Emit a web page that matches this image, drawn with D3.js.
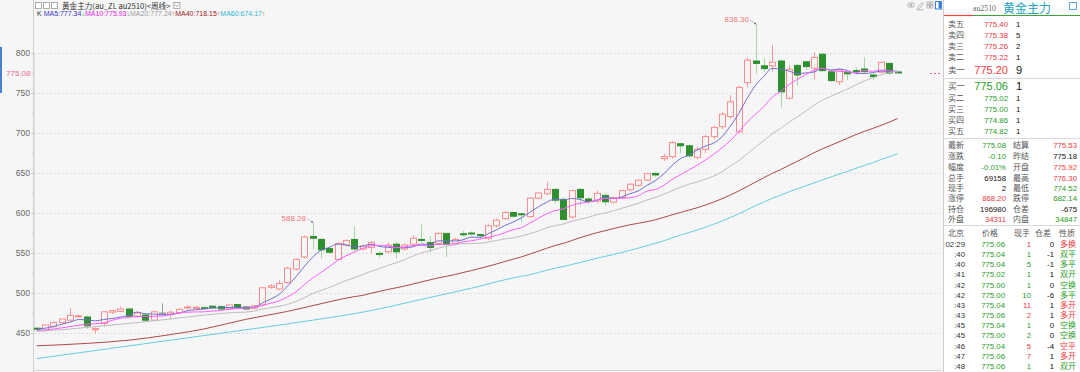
<!DOCTYPE html>
<html><head><meta charset="utf-8">
<script src="https://cdn.jsdelivr.net/npm/d3@7/dist/d3.min.js"></script>
<style>
html,body{margin:0;padding:0;background:#f6f6f6;overflow:hidden;}
svg{display:block;font-family:"Liberation Sans",Arial,"Noto Sans CJK SC",sans-serif;}
</style></head><body>
<svg id="c" width="1080" height="372"></svg>
<script>
// ---------- data ----------
const opens  = [456,453,458,463,466,470.5,470,454,462,476,477,480,471,472.5,466,475,473,475.5,481.5,481,481.6,483.5,483,480,485.5,482.5,481,485,507,505,513,530,545,570.5,567,555.5,542,560,567,555,557,549.5,551.5,561,555,561,567,563,562,574.5,562,574,575,573,568.5,584,593,600.5,599,595.5,618.5,624,629.5,617,595,629.5,617.5,615,622,613.5,619.5,629,634.5,641,649.5,668,670.5,686.5,684,669.5,679.5,695.5,708,720.5,701.5,763,790,784,784,790,743.5,784.5,789,781,798.5,776.5,764,775.5,778,780,772.5,776,787,776.3];
const highs  = [457,461,464,468,481,473,472,457,477,479,483,481,477,474,478,487,478,481,485,484,483,485,484,486,487,484,485,508,511,516,533,543,572,588.28,569,557,563,567,583,561,565,552,563,564,562,572.5,586,571,576,575,569,578,577,574,586,593,602.5,601,600,620,626,639,631,620,629,631,620,628,624,621,629,637,642,650,651,674,690,688,686,683,698,709,726,747.5,759,794,836.30,793,810,792,785,786,790,801,800,778,781,777,782,794.5,774,789,788,776.3];
const lows   = [454,452,457,462,465,469,455,449.5,458,474,476,470,469,464,465,472,468,474,480,480,479,480,479,479,481,479,480,483,505,503,512,528,543,555,543,549,541,558,552,553,550,544,550,543,553,559,563,551,560,545,560,570,572,568,566,582,591,594,588,594,617,622,612,591,593,609,611,612,609,612,618,627,633,640,645,665,668,675,669,667,675,692,705,718,700,757,774,776,777,732,742,759,779,767,776,764,760,766,773,775,766,775,773,774.5];
const closes = [455,460,463,467.5,472,471.5,459,455.5,476.5,478,480,471,475,466,476.5,475,476,479.5,482.5,482,481,481.5,480,485,482.5,480,484,506.5,509,512,531,542,570,568.5,554,551,562,565.5,555,559,563,548.5,560,551.5,560,568.5,566,557,574.5,561,567,573,574,572,584,591,600.5,596,598,618.5,625,629.5,616,592,628,619,614.5,624.5,614,619,628,636,641,649,647.5,670.5,688,684,671.5,679.5,695.5,707,723.5,739,757,791,787,780.5,788.5,751.5,779.5,772.5,783,794.5,778,765.5,778.75,774,777,776.7,770.5,788.5,775,775.08];

const yTicks = [450,500,550,600,650,700,750,800];
const yMinorTicks = [475,525,575,625,675,725,775];
const maPeriods = [5,10,20,40,60];
const maNames = ["MA5","MA10","MA20","MA40","MA60"];
const maLast = ["777.34","775.93","777.24","718.15","674.17"];
const maArrows = ["↓","↓","↑","↑","↑"];
const ma5Head  = [[0,455],[1,456],[2,458],[3,461]];
const ma10Head = [[0,453],[2,455],[4,458],[6,461],[8,462.5]];
const ma20Head = [[0,452],[4,455],[8,459],[12,463],[16,467.5],[18,470]];
const ma40Head = [[0,434],[6,437],[11,441],[16,448],[20,455],[25,467],[30,477],[35,489],[38,495.5]];
const ma60Head = [[0,418],[8,429.5],[16,441],[25,454],[33,466],[40,478],[46,492],[52,506],[58,521]];
const maHeads = [ma5Head,ma10Head,ma20Head,ma40Head,ma60Head];
const lastPrice = 775.08;
const highMarkIdx = [33,86];

const titleText = "黄金主力(au_ZL  au2510)<周线>";
const contractCode = "au2510";
const contractName = "黄金主力";
const askLabels = ["卖五","卖四","卖三","卖二","卖一"];
const askPrices = ["775.40","775.38","775.26","775.22","775.20"];
const askVols   = ["1","5","2","1","9"];
const bidLabels = ["买一","买二","买三","买四","买五"];
const bidPrices = ["775.06","775.02","775.00","774.86","774.82"];
const bidVols   = ["1","1","1","1","1"];
const statLabelsL = ["最新","涨跌","幅度","总手","现手","涨停","持仓","外盘"];
const statValuesL = ["775.08","-0.10","-0.01%","69158","2","868.20","196980","34311"];
const statToneL   = ["down","down","down","flat","flat","up","flat","up"];
const statLabelsR = ["结算","昨结","开盘","最高","最低","跌停","仓差","内盘"];
const statValuesR = ["775.53","775.18","775.92","776.30","774.52","682.14","-675","34847"];
const statToneR   = ["up","flat","up","up","down","down","flat","down"];
const tickHeader = ["北京","价格","现手","仓差","性质"];
const tickTimes  = ["02:29",":40",":40",":41",":42",":42",":43",":43",":45",":45",":46",":47",":48"];
const tickPrices = ["775.06","775.04","775.04","775.02","775.00","775.00","775.04","775.06","775.04","775.00","775.04","775.06","775.06"];
const tickVols   = [1,1,5,1,1,10,11,2,1,2,5,7,1];
const tickOI     = [0,-1,-1,1,0,-6,1,1,0,0,-4,1,1];
const tickNature = ["多换","双平","多平","双开","空换","多平","多开","多开","空换","空换","空平","多开","双开"];
const tickSide   = ["up","down","down","down","down","down","up","up","down","down","up","up","down"];

// ---------- styles ----------
const RED="#f03a3a", GREEN="#1f9d1f", LABEL="#555";
const toneColor = t => t==="up"?RED:(t==="down"?GREEN:"#111");
const maColors = ["#6f6fcf","#ff5cff","#bdbdbd","#b04848","#62cfe0"];
const maTextColors = ["#3434c8","#e01ee0","#9a9a9a","#a01818","#2fb6d0"];
const CJK = '"Noto Sans CJK SC","Liberation Sans",sans-serif';

const svg = d3.select("#c");
const N = closes.length;
const x = d3.scaleLinear().domain([0, N-1]).range([36.7, 897.6]);
const y = d3.scaleLinear().domain([450, 800]).range([333, 53]);

// background
svg.append("rect").attr("width",1080).attr("height",372).attr("fill","#f6f6f6");
svg.append("rect").attr("x",0).attr("y",47).attr("width",2).attr("height",46).attr("fill","#4a7fd6");

// grid
svg.append("g").selectAll("line").data(yTicks).join("line")
  .attr("x1",34).attr("x2",940).attr("y1",d=>Math.round(y(d))+0.5).attr("y2",d=>Math.round(y(d))+0.5)
  .attr("stroke","#dcdcdc").attr("stroke-dasharray","2,2");

// axes
const axis = svg.append("g").attr("transform","translate(33.5,0)")
  .call(d3.axisLeft(y).tickValues(yTicks).tickSize(2).tickPadding(1.5).tickFormat(d3.format("d")));
axis.select(".domain").attr("stroke","#d0d0d0");
axis.selectAll(".tick line").attr("stroke","#c8c8c8");
axis.selectAll("text").attr("fill","#666").attr("font-size",8.5).attr("font-family","Liberation Sans, Arial, sans-serif");
svg.append("line").attr("x1",33.5).attr("x2",33.5).attr("y1",0).attr("y2",372).attr("stroke","#d0d0d0");
const axisMinor = svg.append("g").attr("transform","translate(33.5,0)")
  .call(d3.axisLeft(y).tickValues(yMinorTicks).tickSize(2).tickFormat(""));
axisMinor.select(".domain").remove();
axisMinor.selectAll(".tick line").attr("stroke","#c8c8c8");
svg.append("line").attr("x1",33).attr("x2",942).attr("y1",370.5).attr("y2",370.5).attr("stroke","#d6d6d6");

// last price marker
svg.append("text").attr("x",30.5).attr("y",y(lastPrice)+3).attr("text-anchor","end")
  .attr("font-size",8).attr("fill","#f0669a").text(lastPrice.toFixed(2));
svg.append("line").attr("x1",930).attr("x2",942).attr("y1",Math.round(y(lastPrice))+0.5).attr("y2",Math.round(y(lastPrice))+0.5)
  .attr("stroke","#f0669a").attr("stroke-dasharray","2,2");

// clip
svg.append("clipPath").attr("id","plot").append("rect").attr("x",34).attr("y",17).attr("width",906).attr("height",353);
const plot = svg.append("g").attr("clip-path","url(#plot)");

// candles
const idx = d3.range(N);
const dir = i => closes[i]>opens[i]?"up":(closes[i]<opens[i]?"down":"flat");
const bw = 6;
const cg = plot.append("g");
cg.selectAll("line.wick").data(idx).join("line").attr("class","wick")
  .attr("x1",i=>Math.round(x(i))+0.5).attr("x2",i=>Math.round(x(i))+0.5)
  .attr("y1",i=>y(highs[i])).attr("y2",i=>y(lows[i]))
  .attr("stroke",i=>dir(i)==="up"?"#ff9a9a":(dir(i)==="down"?"#a6d6a6":"#9a9a9a")).attr("stroke-width",1);
cg.selectAll("rect.body").data(idx).join("rect").attr("class","body")
  .attr("x",i=>Math.round(x(i))-bw/2+0.5)
  .attr("y",i=>y(Math.max(opens[i],closes[i])))
  .attr("width",bw)
  .attr("height",i=>Math.max(1,Math.abs(y(opens[i])-y(closes[i]))))
  .attr("fill",i=>dir(i)==="down"?"#2e8f2e":"#f6f6f6")
  .attr("stroke",i=>dir(i)==="up"?"#ff8c8c":(dir(i)==="down"?"#2e8f2e":"#9a9a9a")).attr("stroke-width",1);

// moving averages
const line = d3.line().x(d=>x(d[0])).y(d=>y(d[1])).curve(d3.curveMonotoneX);
maPeriods.forEach((n,k)=>{
  const pts = maHeads[k].slice();
  for(let i=n-1;i<N;i++) pts.push([i, d3.mean(closes.slice(i-n+1,i+1))]);
  plot.append("path").datum(pts).attr("d",line).attr("fill","none")
    .attr("stroke",maColors[k]).attr("stroke-width",1);
});

// high annotations
highMarkIdx.forEach(i=>{
  const cx=x(i), cy=y(highs[i]);
  svg.append("line").attr("x1",cx-5).attr("y1",cy-3.5).attr("x2",cx-0.5).attr("y2",cy-0.5)
    .attr("stroke","#777").attr("stroke-width",0.8).attr("stroke-dasharray","1,1");
  svg.append("circle").attr("cx",cx-0.5).attr("cy",cy-0.5).attr("r",0.9).attr("fill","#666");
  svg.append("text").attr("x",cx-6.5).attr("y",cy-1.5).attr("text-anchor","end")
    .attr("font-size",8).attr("fill","#f07878").text(highs[i].toFixed(2));
});

// header row 1
[35,43,51].forEach(px=>{
  svg.append("rect").attr("x",px+0.5).attr("y",2.5).attr("width",6).attr("height",6).attr("fill","#fff").attr("stroke","#999").attr("stroke-width",0.8);
});
const title = svg.append("text").attr("x",62).attr("y",9).attr("font-size",7.6).attr("fill","#333").attr("font-family",CJK).text(titleText);
const tEnd = 62 + title.node().getComputedTextLength() + 3;
svg.append("rect").attr("x",tEnd+0.5).attr("y",2.5).attr("width",6).attr("height",6).attr("fill","#fff").attr("stroke","#999").attr("stroke-width",0.8);
svg.append("path").attr("d",`M${tEnd+1.8},4.6 L${tEnd+3.5},6.6 L${tEnd+5.2},4.6`).attr("fill","none").attr("stroke","#777").attr("stroke-width",0.7);

// header row 2 (MA legend)
const leg = svg.append("text").attr("x",37).attr("y",16).attr("font-size",7);
leg.append("tspan").attr("fill","#333").text("K ");
maNames.forEach((nm,k)=>{
  leg.append("tspan").attr("fill",maTextColors[k]).text(nm+":"+maLast[k]);
  leg.append("tspan").attr("fill",maArrows[k]==="↑"?RED:GREEN).text(maArrows[k]);
});

// top-right tool icons
const ic = svg.append("g").attr("stroke","#aaa").attr("fill","none").attr("stroke-width",0.8);
ic.append("ellipse").attr("cx",911).attr("cy",5).attr("rx",3.5).attr("ry",2.3);
ic.append("circle").attr("cx",911).attr("cy",5).attr("r",1).attr("fill","#aaa");
ic.append("path").attr("d","M917,8.5 L922,2.5 L923.5,3.8 L918.5,9.5 Z");
ic.append("line").attr("x1",917).attr("x2",924).attr("y1",9.8).attr("y2",9.8);
[[927,2],[930.5,2],[927,5.5],[930.5,5.5]].forEach(p=>ic.append("rect").attr("x",p[0]).attr("y",p[1]).attr("width",2.5).attr("height",2.5));
svg.append("rect").attr("x",935.5).attr("y",1.5).attr("width",6).attr("height",7.5).attr("fill","#fff").attr("stroke","#3b82d6").attr("stroke-width",1);
svg.append("rect").attr("x",938.5).attr("y",2).attr("width",3).attr("height",6.5).attr("fill","#3b82d6");

// ---------- right panel ----------
const P = svg.append("g").attr("font-size",8);
P.append("rect").attr("x",943).attr("y",0).attr("width",137).attr("height",372).attr("fill","#fff");
P.append("line").attr("x1",943.5).attr("x2",943.5).attr("y1",0).attr("y2",372).attr("stroke","#cfcfcf");
P.append("text").attr("x",973).attr("y",11).attr("fill","#666").attr("font-size",7.8).attr("font-family","Liberation Serif, serif").text(contractCode);
P.append("text").attr("x",1003).attr("y",13).attr("fill","#1c9fc2").attr("font-size",12).attr("font-family",CJK).text(contractName);
P.append("rect").attr("x",1069.5).attr("y",2.5).attr("width",7).attr("height",7).attr("fill","#fff").attr("stroke","#5b9be0").attr("stroke-width",0.9);
P.append("line").attr("x1",944).attr("x2",973).attr("y1",15.5).attr("y2",15.5).attr("stroke","#f04040").attr("stroke-width",1.2);
P.append("line").attr("x1",973).attr("x2",1080).attr("y1",15.5).attr("y2",15.5).attr("stroke","#3aa63a").attr("stroke-width",1.2);

const askY = [24,35,46,57,70];
askLabels.forEach((lb,k)=>{
  const big = k===4;
  P.append("text").attr("x",948).attr("y",askY[k]+3).attr("fill",LABEL).attr("font-family",CJK).attr("font-size",big?8.5:8).text(lb);
  P.append("text").attr("x",1008).attr("y",askY[k]+(big?4:3)).attr("text-anchor","end").attr("fill",RED).attr("font-size",big?11:7.8).text(askPrices[k]);
  P.append("text").attr("x",1016).attr("y",askY[k]+(big?4:3)).attr("fill","#111").attr("font-size",big?11:7.8).text(askVols[k]);
});
P.append("line").attr("x1",944).attr("x2",1080).attr("y1",78.5).attr("y2",78.5).attr("stroke","#d8d8d8");
const bidY = [86,98,109,120,131];
bidLabels.forEach((lb,k)=>{
  const big = k===0;
  P.append("text").attr("x",948).attr("y",bidY[k]+3).attr("fill",LABEL).attr("font-family",CJK).attr("font-size",big?8.5:8).text(lb);
  P.append("text").attr("x",1008).attr("y",bidY[k]+(big?4:3)).attr("text-anchor","end").attr("fill",GREEN).attr("font-size",big?11:7.8).text(bidPrices[k]);
  P.append("text").attr("x",1016).attr("y",bidY[k]+(big?4:3)).attr("fill","#111").attr("font-size",big?11:7.8).text(bidVols[k]);
});
P.append("line").attr("x1",944).attr("x2",1080).attr("y1",138.5).attr("y2",138.5).attr("stroke","#d8d8d8");

const statY = [145,156,167,178,188,198,209,219];
statLabelsL.forEach((lb,k)=>{
  P.append("text").attr("x",948).attr("y",statY[k]+3).attr("fill",LABEL).attr("font-family",CJK).text(lb);
  P.append("text").attr("x",1006).attr("y",statY[k]+3).attr("text-anchor","end").attr("fill",toneColor(statToneL[k])).attr("font-size",7.8).text(statValuesL[k]);
  P.append("text").attr("x",1013).attr("y",statY[k]+3).attr("fill",LABEL).attr("font-family",CJK).text(statLabelsR[k]);
  P.append("text").attr("x",1077).attr("y",statY[k]+3).attr("text-anchor","end").attr("fill",toneColor(statToneR[k])).attr("font-size",7.8).text(statValuesR[k]);
});
P.append("line").attr("x1",944).attr("x2",1080).attr("y1",225.5).attr("y2",225.5).attr("stroke","#d8d8d8");

const hdrX = [948,990,1022,1043,1067];
tickHeader.forEach((h,k)=>{
  P.append("text").attr("x",hdrX[k]).attr("y",236).attr("text-anchor",k===0?"start":"middle").attr("fill",LABEL).attr("font-family",CJK).text(h);
});
tickTimes.forEach((t,k)=>{
  const cy = 244 + k*10.15 + 3;
  const col = tickSide[k]==="up"?RED:GREEN;
  P.append("text").attr("x",965).attr("y",cy).attr("text-anchor","end").attr("fill","#333").attr("font-size",7.8).text(t);
  P.append("text").attr("x",1005).attr("y",cy).attr("text-anchor","end").attr("fill",GREEN).attr("font-size",7.8).text(tickPrices[k]);
  P.append("text").attr("x",1031).attr("y",cy).attr("text-anchor","end").attr("fill",col).attr("font-size",7.8).text(tickVols[k]);
  P.append("text").attr("x",1054).attr("y",cy).attr("text-anchor","end").attr("fill","#111").attr("font-size",7.8).text(tickOI[k]);
  P.append("text").attr("x",1060).attr("y",cy).attr("fill",col).attr("font-family",CJK).text(tickNature[k]);
});
</script>
</body></html>
